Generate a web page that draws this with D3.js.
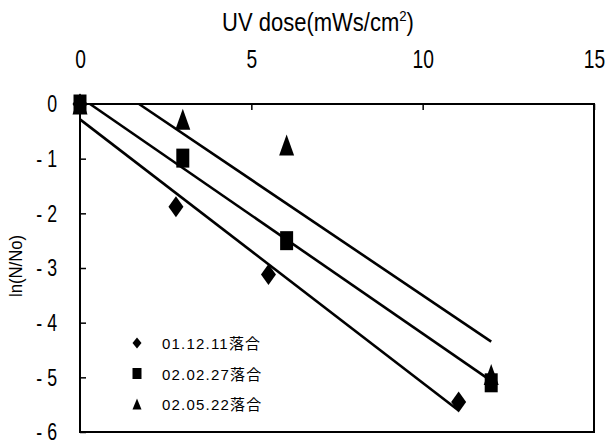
<!DOCTYPE html>
<html>
<head>
<meta charset="utf-8">
<script src="https://cdn.jsdelivr.net/npm/d3@7"></script>
<style>
  body { margin: 0; background: #fff; }
  text { font-family: "Liberation Sans", Arial, sans-serif; fill: #000; }
  .cjk { font-family: "Liberation Sans", "Noto Sans CJK JP", sans-serif; }
</style>
</head>
<body>
<div id="chart-area"></div>
<script>
// data
var seriesNames = ["01.12.11落合", "02.02.27落合", "02.05.22落合"];
var seriesShapes = ["diamond", "square", "triangle"];
var doseDiamond = [0, 2.8, 5.5, 11.05];
var lnDiamond = [0, -1.88, -3.12, -5.45];
var doseSquare = [0, 3.0, 6.03, 12.0];
var lnSquare = [0, -0.99, -2.5, -5.1];
var doseTriangle = [0, 3.0, 6.03, 12.0];
var lnTriangle = [0, -0.28, -0.75, -4.95];
var xTicks = [0, 5, 10, 15];
var yTicks = [0, -1, -2, -3, -4, -5, -6];

var width = 605, height = 444;

var svg = d3.select("#chart-area")
    .append("svg")
        .attr("width", width)
        .attr("height", height);

// Scales
var x = d3.scaleLinear().domain([0, 15]).range([80, 594]);
var y = d3.scaleLinear().domain([0, -6]).range([104, 432]);

// the original font is a condensed one: squeeze text horizontally
var squeeze = 0.74;

// X axis on top, ticks pointing inward
var xAxisCall = d3.axisTop(x)
    .tickValues(xTicks)
    .tickSizeInner(-6)
    .tickSizeOuter(0)
    .tickPadding(36)
    .tickFormat(d => d);
var xAxisGroup = svg.append("g")
    .attr("transform", "translate(0," + y(0) + ")")
    .call(xAxisCall);
xAxisGroup.select(".domain").remove();
xAxisGroup.selectAll("text")
    .attr("font-size", "26px")
    .attr("transform", "scale(" + squeeze + ",1)");
xAxisGroup.selectAll("line").attr("stroke-width", 1.5);

// Y axis
var yAxisCall = d3.axisLeft(y)
    .tickValues(yTicks)
    .tickSizeInner(-6)
    .tickSizeOuter(0)
    .tickPadding(23)
    .tickFormat(d => d === 0 ? "0" : "- " + Math.abs(d));
var yAxisGroup = svg.append("g")
    .attr("transform", "translate(" + x(0) + ",0)")
    .call(yAxisCall);
yAxisGroup.select(".domain").remove();
yAxisGroup.selectAll("text")
    .attr("font-size", "24px")
    .attr("x", -23 / squeeze)
    .attr("transform", "scale(" + squeeze + ",1)");
yAxisGroup.selectAll("line").attr("stroke-width", 1.5);

// Frame
svg.append("rect")
    .attr("x", x(0))
    .attr("y", y(0))
    .attr("width", x(15) - x(0))
    .attr("height", y(-6) - y(0))
    .attr("fill", "none")
    .attr("stroke", "#000")
    .attr("stroke-width", 2);

// Titles
svg.append("text")
    .attr("transform", "translate(318,31) scale(0.88,1)")
    .attr("font-size", "25px")
    .attr("text-anchor", "middle")
    .html('UV dose(mWs/cm<tspan dy="-10" font-size="15px">2</tspan><tspan dy="10">)</tspan>');

svg.append("text")
    .attr("transform", "translate(22,266) rotate(-90) scale(0.88,1)")
    .attr("font-size", "19px")
    .attr("text-anchor", "middle")
    .text("ln(N/No)");

// Marker shapes (the picture's markers are taller than wide)
function markerPath(shape, w, h) {
    var a = w / 2, b = h / 2;
    if (shape === "diamond") return "M0," + (-b) + "L" + a + ",0L0," + b + "L" + (-a) + ",0Z";
    if (shape === "square") return "M" + (-a) + "," + (-b) + "H" + a + "V" + b + "H" + (-a) + "Z";
    return "M0," + (-b) + "L" + a + "," + b + "H" + (-a) + "Z";
}

var series = [
    { name: seriesNames[0], shape: seriesShapes[0], xs: doseDiamond, ys: lnDiamond },
    { name: seriesNames[1], shape: seriesShapes[1], xs: doseSquare, ys: lnSquare },
    { name: seriesNames[2], shape: seriesShapes[2], xs: doseTriangle, ys: lnTriangle }
];

// Least squares fit lines, clipped to y <= 0
series.forEach(s => {
    var mx = d3.mean(s.xs), my = d3.mean(s.ys);
    var sxy = d3.sum(s.xs, (v, i) => (v - mx) * (s.ys[i] - my));
    var sxx = d3.sum(s.xs, v => (v - mx) * (v - mx));
    var b = sxy / sxx, a = my - b * mx;
    var x0 = a > 0 ? -a / b : 0;
    var x1 = d3.max(s.xs);
    svg.append("line")
        .attr("x1", x(x0)).attr("y1", y(a + b * x0))
        .attr("x2", x(x1)).attr("y2", y(a + b * x1))
        .attr("stroke", "#000")
        .attr("stroke-width", 2.6);
});

// Points: triangles, diamonds, then squares on top
[series[2], series[0], series[1]].forEach(s => {
    var pts = s.xs.map((v, i) => ({ x: v, y: s.ys[i] }));
    svg.append("g").selectAll("path")
        .data(pts)
        .enter()
        .append("path")
        .attr("transform", d => "translate(" + x(d.x) + "," + y(d.y) + ")")
        .attr("d", markerPath(s.shape, s.shape === "square" ? 13 : 15, s.shape === "square" ? 19 : 21))
        .attr("fill", "#000");
});

// Legend
var legend = svg.append("g");
series.forEach((s, i) => {
    var ly = 343 + i * 30.5;
    legend.append("path")
        .attr("transform", "translate(137," + ly + ")")
        .attr("d", markerPath(s.shape, 9, 11))
        .attr("fill", "#000");
    legend.append("text")
        .attr("class", "cjk")
        .attr("x", 162)
        .attr("y", ly + 6)
        .attr("font-size", "15px")
        .attr("letter-spacing", "1.2px")
        .text(s.name);
});
</script>
</body>
</html>
